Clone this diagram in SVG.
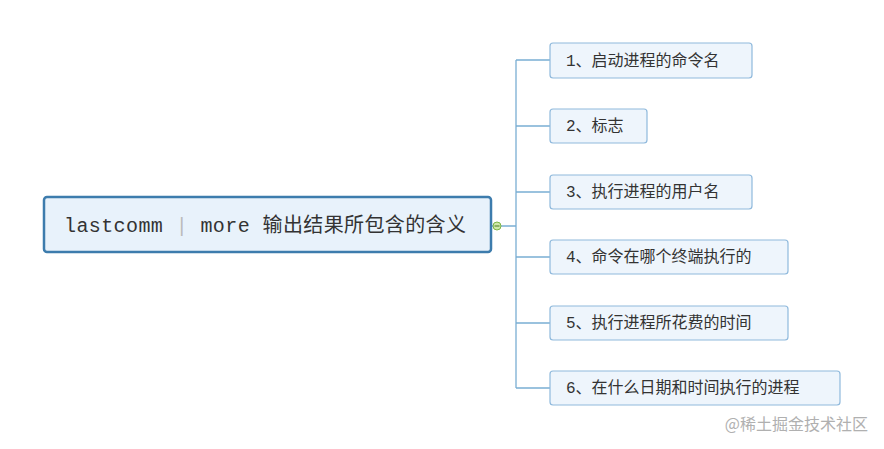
<svg xmlns="http://www.w3.org/2000/svg" width="884" height="449" viewBox="0 0 884 449">
<style>
.c{fill:#eef5fc;stroke:#8fb9dc;stroke-width:1.2}
.t{font-family:"Liberation Mono","Noto Sans CJK SC",monospace;font-size:16px;fill:#333}
.l{fill:none;stroke:#7aaed3;stroke-width:1.3}
</style>
<rect width="884" height="449" fill="#fff"/>
<g id="connectors">
<path class="l" d="M491 226H516M516 60V388M516 60H550M516 126H550M516 192H550M516 257H550M516 323H550M516 388H550"/>
<circle cx="497" cy="226" r="4" fill="#cfe8a8" stroke="#7db547"/>
<path d="M494.5 226H499.5" stroke="#4a7a20"/>
</g>
<g id="root">
<rect x="44" y="197" width="447" height="55" rx="3" fill="#e8f2fb" stroke="#3d7cad" stroke-width="2.5"/>
<text x="64" y="232" class="t" style="font-size:20px" fill="#444" textLength="402">lastcomm <tspan fill="#bbb">|</tspan> more 输出结果所包含的含义</text>
</g>
<g id="n1"><rect class="c" x="550" y="43" width="202" height="35" rx="3"/><text class="t" x="566" y="66">1、启动进程的命令名</text></g>
<g id="n2"><rect class="c" x="550" y="109" width="97" height="34" rx="3"/><text class="t" x="566" y="131">2、标志</text></g>
<g id="n3"><rect class="c" x="550" y="175" width="202" height="34" rx="3"/><text class="t" x="566" y="197">3、执行进程的用户名</text></g>
<g id="n4"><rect class="c" x="550" y="240" width="238" height="34" rx="3"/><text class="t" x="566" y="262">4、命令在哪个终端执行的</text></g>
<g id="n5"><rect class="c" x="550" y="306" width="238" height="34" rx="3"/><text class="t" x="566" y="328">5、执行进程所花费的时间</text></g>
<g id="n6"><rect class="c" x="550" y="371" width="290" height="34" rx="3"/><text class="t" x="566" y="393">6、在什么日期和时间执行的进程</text></g>
<text x="868" y="430" text-anchor="end" font-family="'Noto Sans CJK SC',sans-serif" font-size="16" fill="#b0b0b0">@稀土掘金技术社区</text>
</svg>
